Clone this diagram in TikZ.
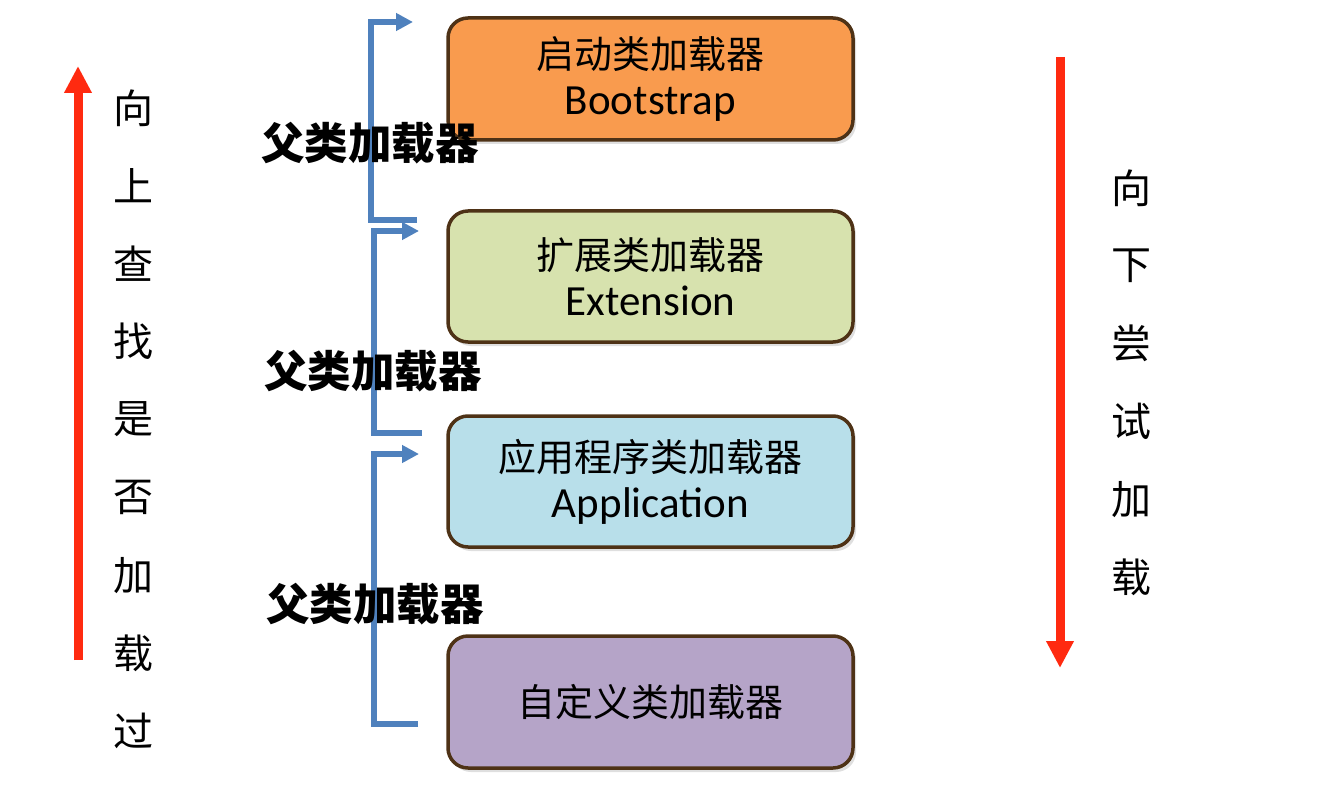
\documentclass[tikz,border=0pt]{standalone}
\usepackage{fontspec}
\setmainfont{Carlito}
\newfontfamily\cjk{Noto Sans CJK SC}
\usetikzlibrary{arrows.meta,shadows}
\definecolor{boxorange}{HTML}{F99B4E}
\definecolor{boxgreen}{HTML}{D7E2AE}
\definecolor{boxblue}{HTML}{B8DFEA}
\definecolor{boxpurple}{HTML}{B5A4C8}
\definecolor{boxborder}{HTML}{4E3216}
\definecolor{linkblue}{HTML}{4F81BD}
\definecolor{arrowred}{HTML}{FF2A10}
\newcommand\zhbox[1]{{\cjk\fontsize{38}{45}\selectfont #1}}
\tikzset{
  loader/.style={draw=boxborder, line width=3.5pt, rounded corners=20pt,
    minimum width=405pt, align=center, inner sep=0pt,
    font=\fontsize{43}{46}\selectfont,
    drop shadow={opacity=0.25, shadow xshift=3pt, shadow yshift=-4pt}},
  bracket/.style={draw=linkblue, line width=6pt,
    -{Triangle[width=17pt,length=17pt]}},
  bigarrow/.style={draw=arrowred, line width=9pt,
    -{Triangle[width=26pt,length=27pt]}},
  parentlabel/.style={font=\cjk\bfseries\fontsize{43.5}{43.5}\selectfont, inner sep=0pt},
  vtext/.style={font=\cjk\fontsize{40}{40}\selectfont, inner sep=0pt}
}
\begin{document}
\begin{tikzpicture}[x=1pt,y=-1pt]
\useasboundingbox (0,0) rectangle (1329,786);
\fill[white] (0,0) rectangle (1329,786);

% boxes
\node[loader, fill=boxorange, minimum height=122pt] (boot) at (650.5,79)
  {\zhbox{启动类加载器}\\Bootstrap};
\node[loader, fill=boxgreen, minimum height=131pt] (ext) at (650.5,276.5)
  {\zhbox{扩展类加载器}\\Extension};
\node[loader, fill=boxblue, minimum height=131pt] (app) at (650.5,481.5)
  {\zhbox{应用程序类加载器}\\Application};
\node[loader, fill=boxpurple, minimum height=132pt] (cust) at (650.5,702)
  {\zhbox{自定义类加载器}};

% bracket end points
\coordinate (t1) at (413,22);
\coordinate (s1) at (417,220);
\coordinate (t2) at (419,231);
\coordinate (s2) at (422,433);
\coordinate (t3) at (419,454);
\coordinate (s3) at (418,724);

\draw[bracket] (s1) -- (371,220) |- (t1);
\draw[bracket] (s2) -- (374,433) |- (t2);
\draw[bracket] (s3) -- (374,724) |- (t3);

% labels
\node[parentlabel] (p1) at (370,143) {父类加载器};
\node[parentlabel] (p2) at (373,371) {父类加载器};
\node[parentlabel] (p3) at (375,604) {父类加载器};

% red arrows
\coordinate (ua) at (78,660);
\coordinate (ub) at (78,66);
\draw[bigarrow] (ua) -- (ub);
\coordinate (da) at (1060,57);
\coordinate (db) at (1060,668);
\draw[bigarrow] (da) -- (db);

% vertical texts
\foreach \c [count=\i] in {向,上,查,找,是,否,加,载,过}
  \node[vtext] (L\i) at (133,{108+77.9*(\i-1)}) {\c};
\foreach \c [count=\i] in {向,下,尝,试,加,载}
  \node[vtext] (R\i) at (1131,{188+77.8*(\i-1)}) {\c};
\end{tikzpicture}
\end{document}
